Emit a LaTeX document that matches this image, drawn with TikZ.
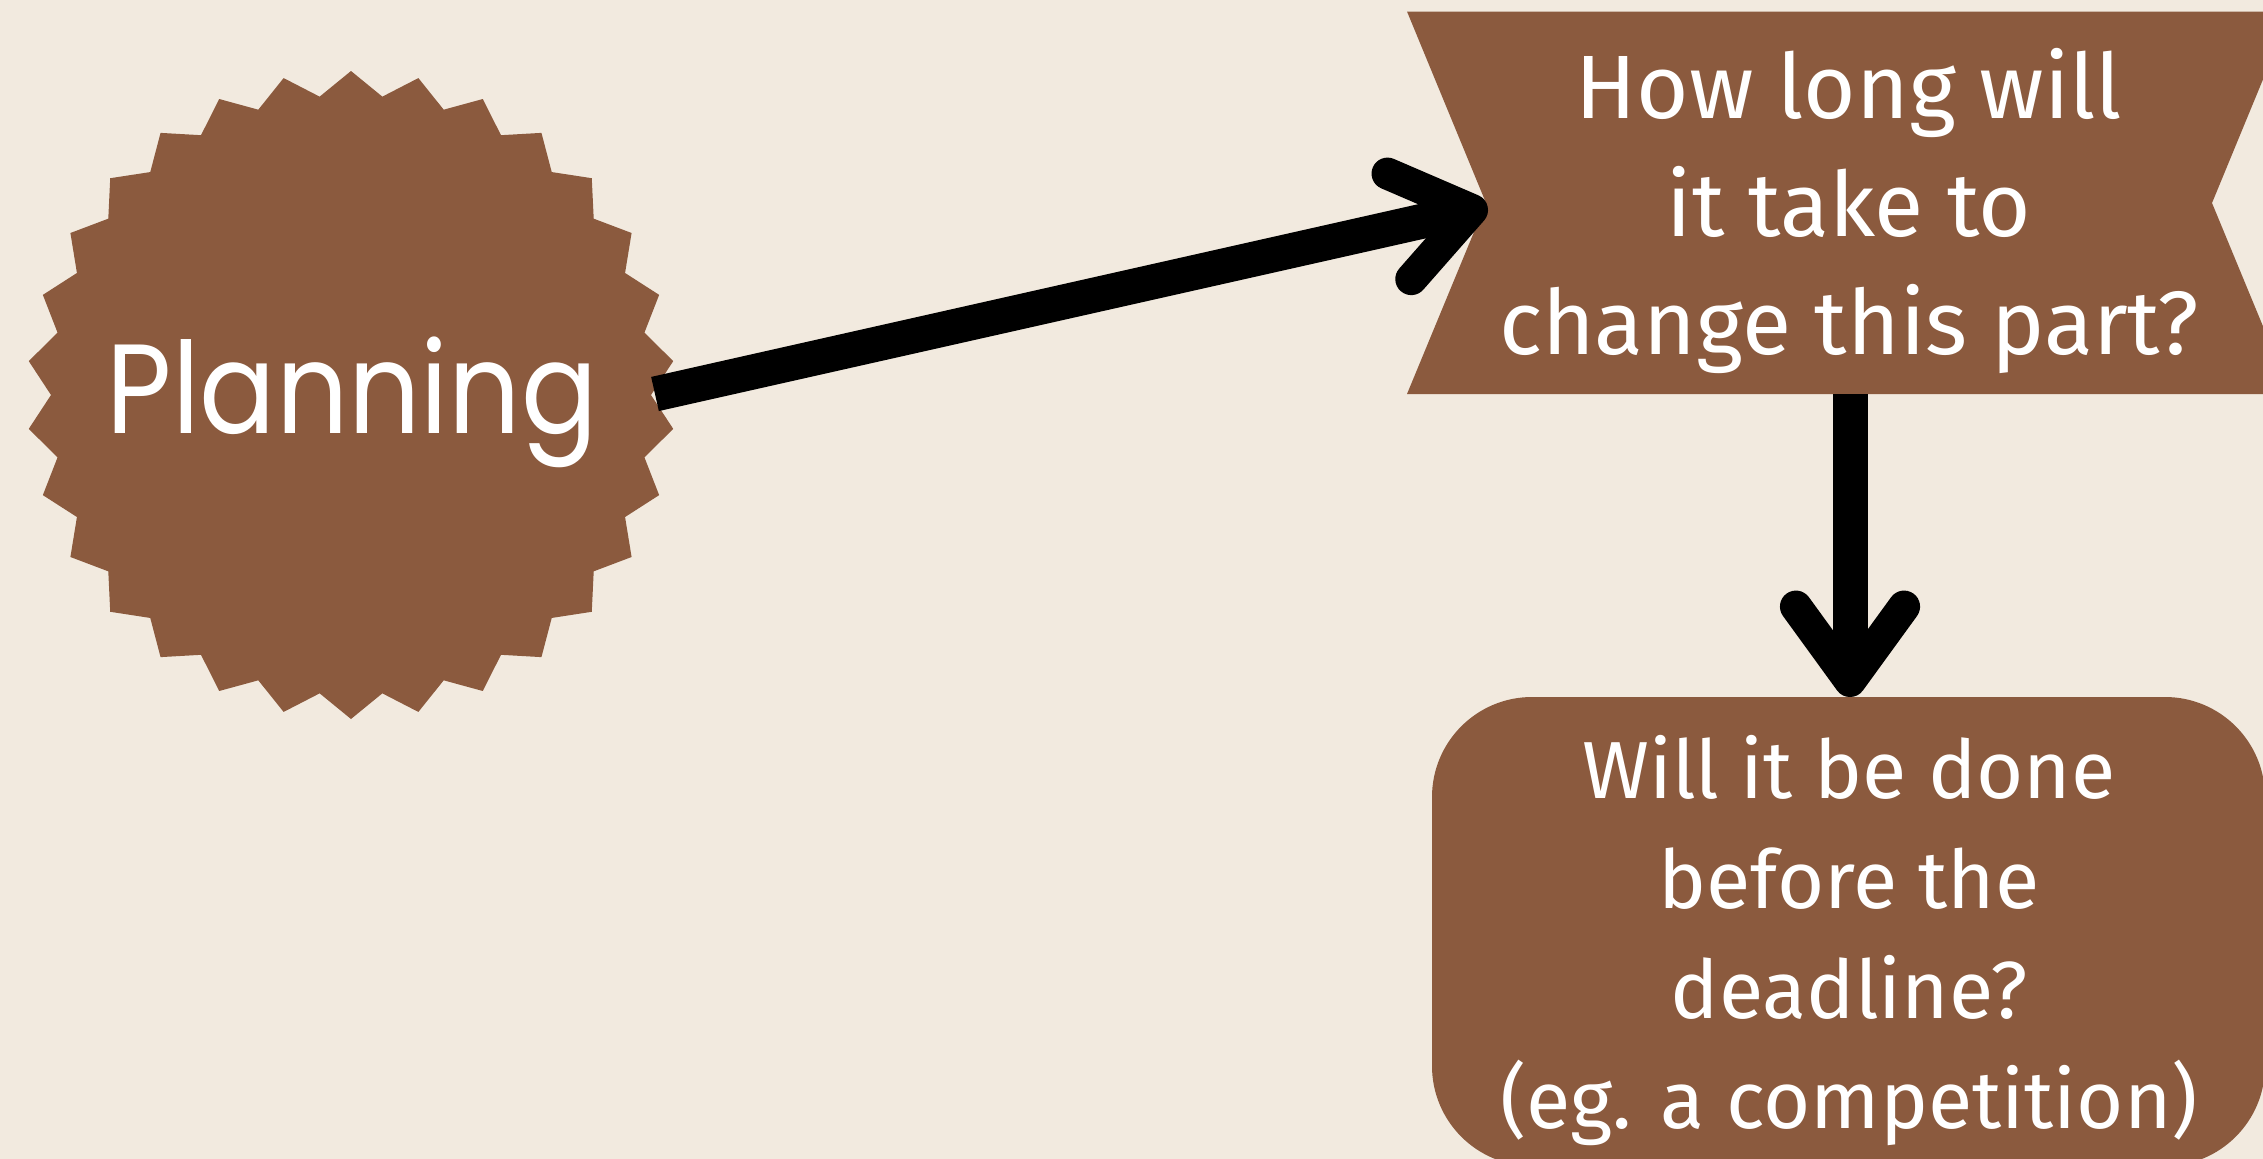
\documentclass[tikz,border=0pt]{standalone}
\usepackage{fontspec}
\usetikzlibrary{calc}
\setmainfont{Fira Sans}
\newfontfamily\popfont[FakeStretch=0.89]{Poppins}
\definecolor{brn}{HTML}{8B5A3E}
\definecolor{bgc}{HTML}{F2EADF}
\begin{document}
\begin{tikzpicture}[x=1pt,y=-1pt,
  lbl/.style={text=white, inner sep=0pt, align=center},
  shaft/.style={line width=35pt, draw=black},
  chevron/.style={line width=32pt, line cap=round, line join=round, draw=black}]
\useasboundingbox (0,0) rectangle (2263,1159);
\clip (0,0) rectangle (2263,1159);
\fill[bgc] (0,0) rectangle (2263,1159);
% starburst
\begin{scope}[shift={(351,395)}]
\fill[brn] (90:324) \foreach \i [evaluate=\i as \r using {ifthenelse(mod(\i,2)==0,324,300)}] in {1,...,59} { -- ({90+6*\i}:\r) } -- cycle;
\end{scope}
\node[lbl, anchor=base, font=\popfont\fontsize{127}{150}\selectfont] (plan) at (352,433) {Planning};
% banner
\fill[brn] (1407,11.5) -- (2291,11.5) -- (2212,203) -- (2291,394) -- (1407,394) -- (1486,203) -- cycle;
\node[lbl, font=\fontsize{90}{118}\selectfont] (q1) at (1849,211) {How long will\\it take to\\change this part?};
% rounded box
\fill[brn, rounded corners=100pt] (1432,697) rectangle (2265,1166);
\node[lbl, font=\fontsize{81}{110}\selectfont] (q2) at (1849,941) {Will it be done\\before the\\deadline?\\(eg. a competition)};
% connectors
\coordinate (a1s) at (655,394);
\coordinate (a1t) at (1472,210);
\coordinate (a2s) at (1850,394);
\coordinate (a2t) at (1850,681);
\draw[shaft] (a1s) -- ($(a1t)!6pt!(a1s)$);
\draw[chevron] ($(a1t)!92pt!36:(a1s)$) -- (a1t) -- ($(a1t)!92pt!-36:(a1s)$);
\draw[shaft] (a2s) -- ($(a2t)!6pt!(a2s)$);
\draw[chevron] ($(a2t)!92pt!36:(a2s)$) -- (a2t) -- ($(a2t)!92pt!-36:(a2s)$);
\end{tikzpicture}
\end{document}
